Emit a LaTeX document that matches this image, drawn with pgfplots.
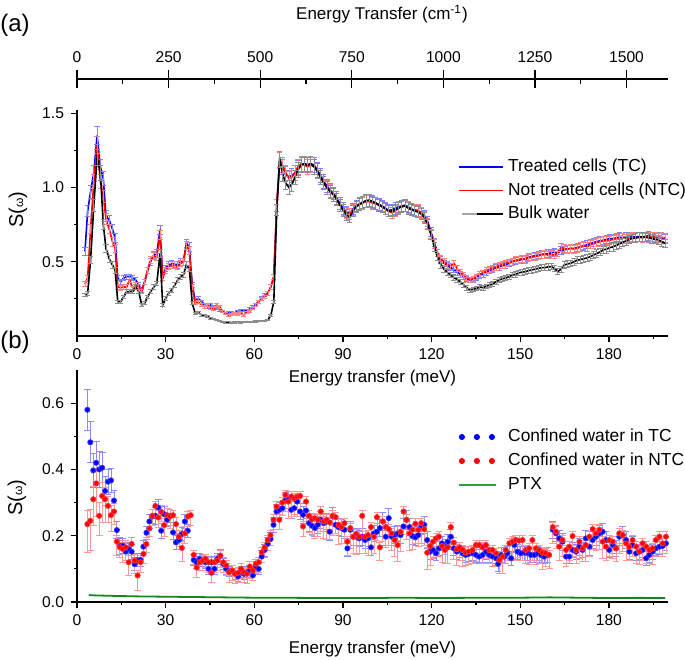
\documentclass[border=0pt]{standalone}
\usepackage{pgfplots}
\pgfplotsset{compat=1.18}
\usepackage{pgfplotstable}
\usepackage{fontspec}
\setmainfont{Liberation Sans}
\definecolor{tcblue}{RGB}{0,0,255}
\definecolor{ntcred}{RGB}{255,0,0}
\definecolor{ptxgreen}{RGB}{20,135,35}

% ---------- panel (a) ----------
\pgfplotstableread{
x y
2.7 0.57
3.6 0.84
4.6 0.97
5.7 1.10
6.8 1.35
7.9 1.14
8.9 1.06
9.8 0.81
10.9 0.78
12.0 0.72
12.9 0.66
13.8 0.39
14.8 0.366
15.8 0.39
16.8 0.40
17.8 0.40
18.9 0.39
19.9 0.377
20.9 0.343
21.9 0.31
22.9 0.366
23.9 0.44
24.9 0.50
26.0 0.545
27.0 0.556
28.1 0.715
29.0 0.39
30.0 0.455
31.0 0.478
32.1 0.489
33.1 0.482
34.1 0.478
35.1 0.50
36.0 0.50
37.0 0.624
38.0 0.60
39.0 0.343
40.0 0.242
41.0 0.253
42.2 0.231
43.2 0.209
44.2 0.197
45.3 0.209
46.3 0.20
47.3 0.186
48.3 0.175
49.3 0.164
50.3 0.153
51.4 0.16
52.4 0.16
53.4 0.155
54.4 0.168
55.4 0.172
56.4 0.172
57.5 0.17
58.5 0.182
59.5 0.197
60.5 0.213
61.5 0.231
62.5 0.253
63.5 0.276
64.6 0.29
65.6 0.33
66.6 0.40
67.6 0.88
68.6 1.19
69.6 1.14
70.6 1.09
71.7 1.07
72.7 1.08
73.8 1.10
74.8 1.13
75.9 1.15
77.0 1.16
78.0 1.15
79.1 1.16
80.2 1.15
81.3 1.12
82.4 1.08
83.5 1.04
84.6 1.01
85.7 0.98
86.8 0.96
87.9 0.93
89.0 0.89
90.1 0.86
91.2 0.835
92.3 0.825
93.4 0.855
94.5 0.875
95.6 0.89
96.7 0.90
97.8 0.91
98.9 0.91
100.0 0.90
101.1 0.895
102.2 0.885
103.3 0.875
104.4 0.86
105.5 0.845
106.6 0.85
107.7 0.86
108.8 0.87
109.9 0.875
111.0 0.88
112.1 0.87
113.2 0.855
114.3 0.845
115.4 0.84
116.5 0.83
117.6 0.81
118.7 0.77
119.8 0.70
120.9 0.63
122.0 0.56
123.1 0.51
124.2 0.49
125.3 0.475
126.4 0.46
127.5 0.45
128.6 0.43
129.7 0.415
130.8 0.40
131.9 0.385
133.0 0.377
134.1 0.38
135.2 0.39
136.3 0.405
137.4 0.415
138.5 0.43
139.6 0.44
140.7 0.45
141.8 0.46
142.9 0.465
144.0 0.475
145.1 0.48
146.2 0.49
147.3 0.50
148.4 0.505
149.5 0.51
150.6 0.515
151.7 0.52
152.8 0.53
153.9 0.535
155.0 0.54
156.1 0.545
157.2 0.55
158.3 0.55
159.4 0.555
160.5 0.56
161.6 0.565
162.7 0.56
163.8 0.575
164.9 0.58
166.0 0.585
167.1 0.59
168.2 0.59
169.3 0.595
170.4 0.60
171.5 0.605
172.6 0.615
173.7 0.62
174.8 0.63
175.9 0.635
177.0 0.64
178.1 0.645
179.2 0.65
180.3 0.655
181.4 0.655
182.5 0.66
183.6 0.665
184.7 0.66
185.8 0.665
186.9 0.67
188.0 0.67
189.1 0.665
190.2 0.67
191.3 0.665
192.4 0.67
193.5 0.675
194.6 0.665
195.7 0.66
196.8 0.665
197.9 0.66
199.0 0.655
}\tcA

\pgfplotstableread{
x y
2.7 0.35
3.6 0.39
4.6 0.72
5.7 1.04
6.8 1.285
7.9 1.04
8.9 0.94
9.8 0.79
10.9 0.72
12.0 0.635
12.9 0.59
13.8 0.33
14.8 0.325
15.8 0.33
16.8 0.33
17.8 0.377
18.9 0.32
19.9 0.343
20.9 0.33
21.9 0.298
22.9 0.366
23.9 0.444
24.9 0.51
26.0 0.54
27.0 0.534
28.1 0.68
29.0 0.39
30.0 0.444
31.0 0.467
32.1 0.478
33.1 0.478
34.1 0.467
35.1 0.489
36.0 0.50
37.0 0.61
38.0 0.575
39.0 0.33
40.0 0.22
41.0 0.23
42.2 0.209
43.2 0.197
44.2 0.209
45.3 0.186
46.3 0.182
47.3 0.209
48.3 0.197
49.3 0.164
50.3 0.153
51.4 0.141
52.4 0.146
53.4 0.153
54.4 0.146
55.4 0.153
56.4 0.141
57.5 0.16
58.5 0.168
59.5 0.186
60.5 0.209
61.5 0.231
62.5 0.249
63.5 0.265
64.6 0.29
65.6 0.33
66.6 0.40
67.6 0.88
68.6 1.18
69.6 1.15
70.6 1.10
71.7 1.06
72.7 1.07
73.8 1.10
74.8 1.14
75.9 1.16
77.0 1.15
78.0 1.14
79.1 1.15
80.2 1.14
81.3 1.11
82.4 1.07
83.5 1.03
84.6 1.00
85.7 0.975
86.8 0.95
87.9 0.92
89.0 0.88
90.1 0.85
91.2 0.83
92.3 0.82
93.4 0.85
94.5 0.87
95.6 0.885
96.7 0.895
97.8 0.905
98.9 0.905
100.0 0.895
101.1 0.89
102.2 0.88
103.3 0.87
104.4 0.855
105.5 0.84
106.6 0.83
107.7 0.84
108.8 0.865
109.9 0.87
111.0 0.875
112.1 0.865
113.2 0.85
114.3 0.85
115.4 0.845
116.5 0.83
117.6 0.80
118.7 0.76
119.8 0.69
120.9 0.62
122.0 0.56
123.1 0.52
124.2 0.50
125.3 0.48
126.4 0.47
127.5 0.49
128.6 0.455
129.7 0.43
130.8 0.41
131.9 0.39
133.0 0.38
134.1 0.385
135.2 0.40
136.3 0.415
137.4 0.425
138.5 0.44
139.6 0.45
140.7 0.455
141.8 0.465
142.9 0.475
144.0 0.48
145.1 0.49
146.2 0.495
147.3 0.50
148.4 0.51
149.5 0.515
150.6 0.52
151.7 0.515
152.8 0.525
153.9 0.53
155.0 0.535
156.1 0.54
157.2 0.545
158.3 0.55
159.4 0.545
160.5 0.55
161.6 0.545
162.7 0.56
163.8 0.595
164.9 0.59
166.0 0.585
167.1 0.59
168.2 0.585
169.3 0.59
170.4 0.60
171.5 0.61
172.6 0.60
173.7 0.615
174.8 0.62
175.9 0.63
177.0 0.635
178.1 0.64
179.2 0.64
180.3 0.645
181.4 0.65
182.5 0.655
183.6 0.65
184.7 0.66
185.8 0.655
186.9 0.66
188.0 0.665
189.1 0.66
190.2 0.665
191.3 0.66
192.4 0.67
193.5 0.665
194.6 0.67
195.7 0.665
196.8 0.66
197.9 0.665
199.0 0.66
}\ntcA

\pgfplotstableread{
x y
2.7 0.276
3.6 0.287
4.6 0.51
5.7 0.88
6.8 1.20
7.9 1.10
8.9 0.75
9.8 0.59
10.9 0.52
12.0 0.478
12.9 0.444
13.8 0.231
14.8 0.231
15.8 0.265
16.8 0.298
17.8 0.298
18.9 0.30
19.9 0.33
20.9 0.298
21.9 0.209
22.9 0.22
23.9 0.265
24.9 0.298
26.0 0.33
27.0 0.354
28.1 0.556
29.0 0.209
30.0 0.253
31.0 0.287
32.1 0.31
33.1 0.343
34.1 0.377
35.1 0.40
36.0 0.41
37.0 0.478
38.0 0.455
39.0 0.22
40.0 0.153
41.0 0.16
42.2 0.141
43.2 0.137
44.2 0.13
45.3 0.119
46.3 0.115
47.3 0.108
48.3 0.10
49.3 0.096
50.3 0.092
51.4 0.092
52.4 0.09
53.4 0.092
54.4 0.094
55.4 0.092
56.4 0.094
57.5 0.096
58.5 0.094
59.5 0.096
60.5 0.098
61.5 0.10
62.5 0.10
63.5 0.102
64.6 0.108
65.6 0.14
66.6 0.23
67.6 0.85
68.6 1.19
69.6 1.09
70.6 1.03
71.7 1.00
72.7 1.02
73.8 1.07
74.8 1.12
75.9 1.15
77.0 1.16
78.0 1.15
79.1 1.16
80.2 1.14
81.3 1.11
82.4 1.07
83.5 1.03
84.6 0.995
85.7 0.97
86.8 0.95
87.9 0.92
89.0 0.88
90.1 0.845
91.2 0.815
92.3 0.80
93.4 0.84
94.5 0.87
95.6 0.885
96.7 0.90
97.8 0.91
98.9 0.915
100.0 0.905
101.1 0.895
102.2 0.88
103.3 0.87
104.4 0.855
105.5 0.84
106.6 0.84
107.7 0.85
108.8 0.86
109.9 0.87
111.0 0.875
112.1 0.86
113.2 0.85
114.3 0.84
115.4 0.835
116.5 0.82
117.6 0.795
118.7 0.75
119.8 0.68
120.9 0.60
122.0 0.53
123.1 0.48
124.2 0.45
125.3 0.43
126.4 0.41
127.5 0.395
128.6 0.38
129.7 0.365
130.8 0.345
131.9 0.325
133.0 0.31
134.1 0.315
135.2 0.32
136.3 0.33
137.4 0.325
138.5 0.335
139.6 0.343
140.7 0.35
141.8 0.365
142.9 0.377
144.0 0.385
145.1 0.39
146.2 0.40
147.3 0.41
148.4 0.415
149.5 0.425
150.6 0.43
151.7 0.433
152.8 0.44
153.9 0.445
155.0 0.45
156.1 0.455
157.2 0.46
158.3 0.46
159.4 0.465
160.5 0.467
161.6 0.455
162.7 0.433
163.8 0.45
164.9 0.478
166.0 0.485
167.1 0.49
168.2 0.50
169.3 0.51
170.4 0.515
171.5 0.52
172.6 0.525
173.7 0.534
174.8 0.545
175.9 0.555
177.0 0.565
178.1 0.58
179.2 0.585
180.3 0.595
181.4 0.60
182.5 0.61
183.6 0.62
184.7 0.63
185.8 0.64
186.9 0.65
188.0 0.657
189.1 0.66
190.2 0.665
191.3 0.668
192.4 0.665
193.5 0.66
194.6 0.655
195.7 0.65
196.8 0.646
197.9 0.635
199.0 0.624
}\bulkA

% ---------- panel (b) ----------
\pgfplotstableread{
x y e
3.5 0.58 0.062
4.5 0.482 0.062
5.5 0.397 0.05
6.5 0.42 0.065
7.5 0.40 0.055
8.5 0.405 0.045
9.5 0.335 0.045
10.5 0.363 0.038
11.5 0.367 0.035
12.5 0.306 0.03
13.5 0.217 0.025
14.5 0.169 0.025
15.5 0.17 0.022
16.5 0.152 0.025
17.5 0.16 0.02
18.5 0.152 0.022
19.5 0.114 0.02
20.5 0.126 0.02
21.5 0.127 0.02
22.5 0.167 0.02
23.5 0.209 0.02
24.5 0.243 0.022
25.5 0.258 0.022
26.5 0.26 0.025
27.5 0.285 0.025
28.5 0.215 0.022
29.5 0.265 0.022
30.5 0.248 0.02
31.5 0.26 0.02
32.5 0.21 0.02
33.5 0.18 0.02
34.5 0.187 0.02
35.5 0.205 0.02
36.5 0.243 0.02
37.5 0.215 0.02
39.5 0.127 0.018
40.5 0.12 0.018
41.5 0.13 0.018
42.5 0.125 0.018
43.5 0.12 0.018
44.5 0.10 0.018
45.5 0.12 0.018
46.5 0.10 0.018
47.5 0.13 0.018
48.5 0.14 0.018
49.5 0.115 0.018
50.5 0.10 0.016
51.5 0.092 0.016
52.5 0.095 0.016
53.5 0.085 0.016
54.5 0.077 0.016
55.5 0.09 0.016
56.5 0.085 0.016
57.5 0.09 0.016
58.5 0.095 0.016
59.5 0.08 0.016
60.5 0.107 0.016
61.5 0.10 0.016
62.5 0.137 0.018
63.5 0.157 0.018
64.5 0.175 0.02
65.5 0.19 0.02
66.5 0.233 0.022
67.5 0.273 0.022
68.5 0.278 0.022
69.5 0.283 0.022
70.5 0.306 0.025
71.5 0.308 0.025
72.5 0.278 0.025
73.5 0.283 0.025
74.5 0.303 0.025
75.5 0.273 0.025
76.5 0.263 0.025
77.5 0.276 0.025
78.5 0.238 0.025
79.5 0.23 0.025
80.5 0.223 0.025
81.5 0.233 0.025
82.5 0.248 0.025
83.5 0.238 0.025
84.5 0.243 0.025
85.5 0.212 0.025
86.5 0.258 0.028
87.5 0.233 0.025
88.5 0.226 0.025
89.5 0.223 0.025
90.5 0.218 0.025
91.5 0.162 0.025
92.5 0.218 0.025
93.5 0.197 0.025
94.5 0.197 0.025
95.5 0.192 0.025
96.5 0.197 0.025
97.5 0.187 0.025
98.5 0.192 0.025
99.5 0.165 0.025
100.5 0.207 0.025
101.5 0.212 0.025
102.5 0.223 0.025
103.5 0.243 0.028
104.5 0.197 0.025
105.5 0.253 0.03
106.5 0.197 0.025
107.5 0.202 0.025
108.5 0.207 0.025
109.5 0.202 0.025
110.5 0.228 0.025
111.5 0.248 0.028
112.5 0.226 0.025
113.5 0.199 0.025
114.5 0.195 0.025
115.5 0.202 0.025
116.5 0.228 0.025
117.5 0.233 0.025
118.5 0.187 0.025
119.5 0.152 0.022
120.5 0.157 0.022
121.5 0.147 0.022
122.5 0.162 0.022
123.5 0.177 0.022
124.5 0.167 0.022
125.5 0.182 0.022
126.5 0.197 0.022
127.5 0.162 0.022
128.5 0.152 0.022
129.5 0.157 0.022
130.5 0.147 0.022
131.5 0.142 0.022
132.5 0.145 0.022
133.9 0.147 0.022
135.0 0.142 0.022
136.1 0.137 0.022
137.3 0.142 0.022
138.4 0.152 0.022
139.5 0.142 0.022
140.6 0.137 0.022
141.8 0.132 0.022
142.5 0.115 0.022
143.5 0.142 0.022
144.6 0.137 0.022
145.7 0.147 0.022
146.9 0.132 0.022
148.0 0.172 0.022
149.1 0.152 0.022
150.2 0.147 0.022
151.4 0.149 0.022
152.5 0.147 0.022
153.6 0.142 0.022
154.8 0.142 0.022
155.9 0.147 0.022
157.0 0.142 0.022
158.1 0.137 0.022
159.3 0.142 0.022
161.0 0.218 0.025
162.1 0.207 0.025
163.2 0.192 0.025
164.3 0.182 0.025
165.5 0.137 0.022
166.6 0.137 0.022
167.7 0.157 0.022
168.9 0.152 0.022
170.0 0.167 0.025
171.1 0.157 0.022
172.2 0.192 0.025
173.4 0.167 0.025
174.5 0.187 0.025
175.6 0.197 0.025
176.8 0.207 0.025
177.9 0.212 0.025
179.0 0.187 0.025
180.1 0.157 0.022
181.3 0.172 0.025
182.4 0.162 0.025
183.5 0.197 0.025
184.7 0.202 0.025
185.8 0.187 0.025
186.9 0.152 0.022
188.0 0.172 0.025
189.2 0.147 0.022
190.3 0.152 0.022
191.4 0.157 0.022
192.6 0.132 0.022
193.7 0.142 0.022
194.8 0.152 0.022
195.9 0.162 0.022
197.1 0.167 0.022
198.2 0.169 0.022
199.3 0.177 0.022
}\tcB

\pgfplotstableread{
x y ep em
3.5 0.235 0.04 0.085
4.5 0.245 0.035 0.09
5.5 0.31 0.04 0.08
6.5 0.358 0.06 0.1
7.5 0.26 0.04 0.06
8.5 0.32 0.04 0.08
9.5 0.31 0.035 0.07
10.5 0.29 0.03 0.05
11.5 0.262 0.03 0.05
12.5 0.273 0.025 0.04
13.5 0.182 0.02 0.04
14.5 0.165 0.02 0.03
15.5 0.16 0.02 0.04
16.5 0.165 0.02 0.04
17.5 0.12 0.02 0.04
18.5 0.175 0.02 0.035
19.5 0.125 0.02 0.04
20.5 0.08 0.015 0.045
21.5 0.12 0.02 0.03
22.5 0.145 0.02 0.03
23.5 0.175 0.02 0.025
24.5 0.222 0.02 0.025
25.5 0.26 0.02 0.03
26.5 0.29 0.015 0.03
27.5 0.255 0.02 0.03
28.5 0.272 0.02 0.03
29.5 0.232 0.02 0.035
30.5 0.262 0.02 0.03
31.5 0.258 0.02 0.035
32.5 0.262 0.015 0.03
33.5 0.235 0.02 0.03
34.5 0.197 0.02 0.03
35.5 0.163 0.02 0.04
36.5 0.207 0.02 0.03
37.5 0.258 0.015 0.03
38.5 0.262 0.015 0.03
39.5 0.142 0.015 0.03
40.5 0.104 0.015 0.03
41.5 0.12 0.015 0.025
42.5 0.125 0.015 0.03
43.5 0.13 0.015 0.025
44.5 0.12 0.015 0.03
45.5 0.088 0.015 0.03
46.5 0.12 0.015 0.03
47.5 0.125 0.015 0.03
48.5 0.14 0.015 0.035
49.5 0.12 0.015 0.03
50.5 0.11 0.015 0.03
51.5 0.09 0.015 0.03
52.5 0.095 0.015 0.03
53.5 0.085 0.015 0.03
54.5 0.088 0.015 0.03
55.5 0.10 0.015 0.03
56.5 0.09 0.015 0.03
57.5 0.085 0.015 0.03
58.5 0.107 0.015 0.035
59.5 0.095 0.015 0.03
60.5 0.115 0.015 0.03
61.5 0.12 0.015 0.03
62.5 0.15 0.015 0.03
63.5 0.165 0.015 0.03
64.5 0.187 0.015 0.03
65.5 0.202 0.015 0.03
66.5 0.248 0.015 0.03
67.5 0.288 0.015 0.035
68.5 0.248 0.015 0.03
69.5 0.30 0.015 0.04
70.5 0.323 0.015 0.05
71.5 0.303 0.015 0.05
72.5 0.318 0.015 0.06
73.5 0.313 0.015 0.05
74.5 0.318 0.015 0.06
75.5 0.32 0.015 0.05
76.5 0.228 0.015 0.03
77.5 0.303 0.015 0.06
78.5 0.26 0.015 0.05
79.5 0.25 0.015 0.05
80.5 0.253 0.015 0.06
81.5 0.248 0.015 0.05
82.5 0.273 0.015 0.06
83.5 0.243 0.015 0.05
84.5 0.248 0.015 0.06
85.5 0.24 0.015 0.05
86.5 0.26 0.015 0.06
87.5 0.256 0.015 0.05
88.5 0.233 0.015 0.06
89.5 0.226 0.015 0.05
90.5 0.238 0.015 0.06
91.5 0.182 0.015 0.04
92.5 0.223 0.015 0.06
93.5 0.197 0.015 0.05
94.5 0.205 0.015 0.06
95.5 0.197 0.015 0.05
96.5 0.26 0.015 0.07
97.5 0.197 0.015 0.05
98.5 0.202 0.015 0.06
99.5 0.226 0.015 0.06
100.5 0.197 0.015 0.05
101.5 0.256 0.015 0.07
102.5 0.165 0.015 0.04
103.5 0.243 0.015 0.06
104.5 0.226 0.015 0.06
105.5 0.22 0.015 0.05
106.5 0.207 0.015 0.05
107.5 0.187 0.015 0.05
108.5 0.172 0.015 0.05
109.5 0.212 0.015 0.06
110.5 0.273 0.015 0.07
111.5 0.248 0.015 0.06
112.5 0.207 0.015 0.05
113.5 0.218 0.015 0.06
114.5 0.236 0.015 0.06
115.5 0.218 0.015 0.05
116.5 0.238 0.015 0.06
117.5 0.22 0.015 0.05
118.5 0.149 0.015 0.05
119.5 0.169 0.015 0.06
120.5 0.182 0.015 0.05
121.5 0.192 0.015 0.05
122.5 0.197 0.015 0.06
123.5 0.169 0.015 0.05
124.5 0.157 0.015 0.04
125.5 0.165 0.015 0.05
126.5 0.226 0.015 0.06
127.5 0.179 0.015 0.05
128.5 0.159 0.015 0.05
129.5 0.165 0.015 0.04
130.5 0.157 0.015 0.05
131.5 0.149 0.015 0.04
132.5 0.152 0.015 0.04
133.9 0.157 0.015 0.04
135.0 0.172 0.015 0.05
136.1 0.172 0.015 0.04
137.3 0.165 0.015 0.05
138.4 0.172 0.015 0.04
139.5 0.157 0.015 0.04
140.6 0.157 0.015 0.05
141.8 0.147 0.015 0.04
142.9 0.127 0.015 0.04
144.0 0.137 0.015 0.05
145.1 0.157 0.015 0.04
146.3 0.177 0.015 0.05
147.4 0.182 0.015 0.05
148.5 0.187 0.015 0.06
149.6 0.185 0.015 0.05
150.8 0.187 0.015 0.06
151.9 0.157 0.015 0.04
153.0 0.162 0.015 0.05
154.1 0.187 0.015 0.06
155.3 0.162 0.015 0.05
156.4 0.157 0.015 0.04
157.5 0.149 0.015 0.05
158.6 0.147 0.015 0.04
159.8 0.142 0.015 0.04
161.0 0.226 0.015 0.05
162.1 0.212 0.015 0.05
163.2 0.167 0.015 0.04
164.3 0.187 0.015 0.05
165.5 0.157 0.015 0.05
166.6 0.167 0.015 0.04
167.7 0.199 0.015 0.06
168.9 0.157 0.015 0.04
170.0 0.182 0.015 0.05
171.1 0.162 0.015 0.04
172.2 0.172 0.015 0.05
173.4 0.197 0.015 0.06
174.5 0.22 0.015 0.06
175.6 0.207 0.015 0.05
176.8 0.218 0.015 0.06
177.9 0.182 0.015 0.05
179.0 0.167 0.015 0.04
180.1 0.187 0.015 0.05
181.3 0.182 0.015 0.05
182.4 0.162 0.015 0.04
183.5 0.207 0.015 0.06
184.7 0.202 0.015 0.05
185.8 0.177 0.015 0.05
186.9 0.167 0.015 0.04
188.0 0.187 0.015 0.05
189.2 0.167 0.015 0.05
190.3 0.152 0.015 0.04
191.4 0.177 0.015 0.05
192.6 0.167 0.015 0.05
193.7 0.157 0.015 0.04
194.8 0.162 0.015 0.05
195.9 0.187 0.015 0.05
197.1 0.197 0.015 0.05
198.2 0.177 0.015 0.04
199.3 0.197 0.015 0.05
}\ntcB

\pgfplotstableread{
x y
4 0.021
6 0.020
10 0.019
15 0.018
20 0.017
25 0.0165
30 0.016
35 0.0155
40 0.015
45 0.0145
50 0.014
55 0.0135
60 0.013
70 0.013
80 0.012
90 0.012
100 0.012
110 0.013
120 0.012
130 0.0125
140 0.013
150 0.013
160 0.014
170 0.013
180 0.012
190 0.0125
199 0.012
}\ptxB

\pgfplotsset{
  panel/.style={
    scale only axis, width=295.5pt,
    xmin=0, xmax=200,
    axis lines*=left,
    axis line style={line width=0.6pt, black},
    every tick/.style={line width=0.6pt, black},
    tick align=outside,
    major tick length=3pt, minor tick length=1.6pt,
    xtick={0,30,...,180}, minor xtick={15,45,...,195},
    tick label style={font=\fontsize{7.8}{9}\selectfont},
    label style={font=\fontsize{8.5}{10}\selectfont},
    /pgf/number format/assume math mode=true,
    y tick label style={/pgf/number format/.cd, fixed, fixed zerofill, precision=1, /tikz/.cd},
    legend cell align=left,
    legend style={draw=none, fill=none, inner sep=0pt,
      font=\fontsize{8.7}{10}\selectfont,
      nodes={inner sep=0.5pt, text height=6.4pt, text depth=1.8pt},
      /tikz/every odd column/.append style={column sep=0pt}},
  }
}

\begin{document}
\begin{tikzpicture}
\path[use as bounding box] (0,0) rectangle (342.5pt,-329.5pt);

% top secondary axis (cm^-1)
\begin{axis}[
  scale only axis, width=295.5pt, height=1pt,
  at={(38.5pt,-39.5pt)}, anchor=north west,
  xmin=0, xmax=1613.1, ymin=0, ymax=1,
  axis x line*=top, axis y line=none,
  axis line style={line width=0.6pt, black},
  every tick/.style={line width=0.6pt, black},
  tick align=inside, major tick length=2.6pt,
  xtick={125,375,...,1375}, xticklabels={},
  extra x ticks={0,250,...,1500},
  extra x tick style={tick align=center, major tick length=9pt},
  tick label style={font=\fontsize{7.8}{9}\selectfont},
  /pgf/number format/assume math mode=true,
  /pgf/number format/set thousands separator={},
  xlabel={Energy Transfer (cm\textsuperscript{-1})},
  xlabel style={font=\fontsize{8.5}{10}\selectfont, at={(axis description cs:0.516,1)}, anchor=center, yshift=32.5pt},
]
\end{axis}

% panel (a)
\begin{axis}[panel,
  at={(38.5pt,-168pt)}, anchor=south west, height=113pt,
  ymin=0, ymax=1.521,
  ytick={0.5,1.0,1.5}, minor ytick={0.25,0.75,1.25},
  xlabel={Energy transfer (meV)},
  xlabel style={at={(axis description cs:0.5,0)}, anchor=center, yshift=-21pt},
  ylabel={S({\fontsize{6}{6}\selectfont ω})},
  ylabel style={at={(axis description cs:-0.0998,0.56)}, anchor=center, font=\fontsize{10}{11}\selectfont},
  legend style={at={(rel axis cs:0.6447,0.79)}, anchor=north west, row sep=2.55pt},
]
\addplot[tcblue, line width=0.8pt, mark=none,
  legend image code/.code={\draw[tcblue, line width=0.9pt] (0pt,0pt)--(22pt,0pt); \path (23.5pt,0pt);},
  error bars/y dir=both, error bars/y fixed relative=0.045,
  error bars/error bar style={tcblue!50, line width=0.35pt},
  error bars/error mark options={tcblue!50, mark size=1.3pt, line width=0.35pt, rotate=90}]
  table[x=x, y=y]{\tcA};
\addlegendentry{Treated cells (TC)}
\addplot[ntcred, line width=0.8pt, mark=none,
  legend image code/.code={\draw[ntcred, line width=0.9pt] (0pt,0pt)--(22pt,0pt); \path (23.5pt,0pt);},
  error bars/y dir=both, error bars/y fixed relative=0.045,
  error bars/error bar style={ntcred!50, line width=0.35pt},
  error bars/error mark options={ntcred!50, mark size=1.3pt, line width=0.35pt, rotate=90}]
  table[x=x, y=y]{\ntcA};
\addlegendentry{Not treated cells (NTC)}
\addplot[black, line width=0.8pt, mark=none,
  legend image code/.code={\draw[black!35, line width=0.9pt] (1.5pt,0pt)--(9pt,0pt); \draw[black, line width=0.9pt] (9pt,0pt)--(22pt,0pt); \path (0pt,0pt) (23.5pt,0pt);},
  error bars/y dir=both, error bars/y fixed relative=0.045,
  error bars/error bar style={black!45, line width=0.35pt},
  error bars/error mark options={black!45, mark size=1.3pt, line width=0.35pt, rotate=90}]
  table[x=x, y=y]{\bulkA};
\addlegendentry{Bulk water}
\end{axis}

% panel (b)
\begin{axis}[panel,
  at={(38.5pt,-301pt)}, anchor=south west, height=116pt,
  ymin=0, ymax=0.70,
  ytick={0,0.2,0.4,0.6}, minor ytick={0.1,0.3,0.5},
  xlabel={Energy transfer (meV)},
  xlabel style={at={(axis description cs:0.5,0)}, anchor=center, yshift=-23.5pt},
  ylabel={S({\fontsize{6}{6}\selectfont ω})},
  ylabel style={at={(axis description cs:-0.1015,0.45)}, anchor=center, font=\fontsize{10}{11}\selectfont},
  legend style={at={(rel axis cs:0.6447,0.7526)}, anchor=north west, row sep=2.8pt},
]
\addplot[only marks, mark=*, mark size=1.3pt, tcblue, mark options={fill=tcblue, draw=tcblue!80},
  legend image code/.code={\fill[tcblue] (1.3pt,0pt) circle[radius=1.3pt] (8.8pt,0pt) circle[radius=1.3pt] (16.3pt,0pt) circle[radius=1.3pt]; \path (0pt,0pt) (23.5pt,0pt);},
  error bars/y dir=both, error bars/y explicit,
  error bars/error bar style={tcblue!45, line width=0.4pt},
  error bars/error mark options={tcblue!45, mark size=1.7pt, line width=0.4pt, rotate=90}]
  table[x=x, y=y, y error=e]{\tcB};
\addlegendentry{Confined water in TC}
\addplot[only marks, mark=*, mark size=1.3pt, ntcred, mark options={fill=ntcred, draw=ntcred!80},
  legend image code/.code={\fill[ntcred] (1.3pt,0pt) circle[radius=1.3pt] (8.8pt,0pt) circle[radius=1.3pt] (16.3pt,0pt) circle[radius=1.3pt]; \path (0pt,0pt) (23.5pt,0pt);},
  error bars/y dir=both, error bars/y explicit,
  error bars/error bar style={ntcred!40, line width=0.4pt},
  error bars/error mark options={ntcred!40, mark size=1.7pt, line width=0.4pt, rotate=90}]
  table[x=x, y=y, y error plus=ep, y error minus=em]{\ntcB};
\addlegendentry{Confined water in NTC}
\addplot[ptxgreen, line width=0.9pt, mark=none,
  legend image code/.code={\draw[ptxgreen!85, line width=0.9pt] (0pt,0pt)--(18.5pt,0pt); \path (23.5pt,0pt);}]
  table[x=x, y=y]{\ptxB};
\addlegendentry{PTX}
\end{axis}

\node[font=\fontsize{12}{14}\selectfont] at (7.5pt,-12.5pt) {(a)};
\node[font=\fontsize{12}{14}\selectfont] at (7.5pt,-171pt) {(b)};
\end{tikzpicture}
\end{document}
